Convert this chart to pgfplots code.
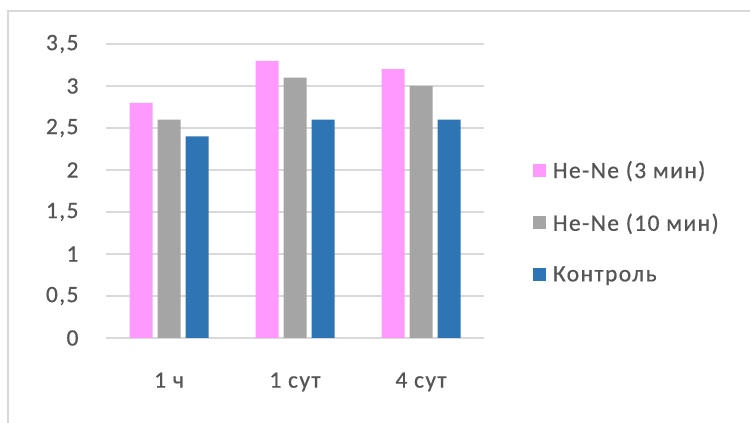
\documentclass[border=0pt]{standalone}
\usepackage{fontspec}
\setmainfont{Carlito}[LetterSpace=6, FakeBold=0.6]
\usepackage{pgfplots}
\pgfplotsset{compat=1.18}
\definecolor{cpink}{HTML}{FF99FF}
\definecolor{cgray}{HTML}{A5A5A5}
\definecolor{cblue}{HTML}{2E75B6}
\definecolor{ctext}{HTML}{555555}
\definecolor{cgrid}{HTML}{D9D9D9}

\begin{document}
\begin{tikzpicture}[x=1pt,y=1pt]
\useasboundingbox (0,0) rectangle (750,423);
% chart frame, partly outside the page
\begin{scope}
\clip (0,0) rectangle (750,423);
\draw[cgrid, line width=1.5pt] (8,-20) -- (8,412) -- (770,412);
\end{scope}
\begin{axis}[
  at={(106pt,85pt)}, anchor=south west,
  scale only axis, width=378pt, height=294pt,
  xmin=-0.5, xmax=2.5, ymin=0, ymax=3.5,
  ybar=5pt, bar width=23pt,
  xtick={0,1,2}, xticklabels={1 ч,1 сут,4 сут},
  ytick={0,0.5,...,3.5},
  ymajorgrids, grid style={cgrid, line width=1.2pt},
  axis line style={draw=none},
  major tick length=0pt,
  tick label style={font=\fontsize{23.5}{27}\selectfont, text=ctext},
  yticklabel style={xshift=-24pt},
  xticklabel style={yshift=-31pt},
  /pgf/number format/.cd, use comma, assume math mode=true, 1000 sep={},
  /pgfplots/.cd,
  legend style={at={(1.121,0.395)}, anchor=west, draw=none, fill=none,
    font=\fontsize{23.5}{27}\selectfont, text=ctext, row sep=30pt},
  legend cell align=left,
  legend image code/.code={\fill[#1] (0pt,-6.5pt) rectangle (13pt,6.5pt);\path (18pt,0pt);},
]
\addplot[fill=cpink, draw=none] coordinates {(0,2.8) (1,3.3) (2,3.2)};
\addplot[fill=cgray, draw=none] coordinates {(0,2.6) (1,3.1) (2,3.0)};
\addplot[fill=cblue, draw=none] coordinates {(0,2.4) (1,2.6) (2,2.6)};
\legend{He-Ne (3 мин), He-Ne (10 мин), Контроль}
\end{axis}
\end{tikzpicture}
\end{document}
